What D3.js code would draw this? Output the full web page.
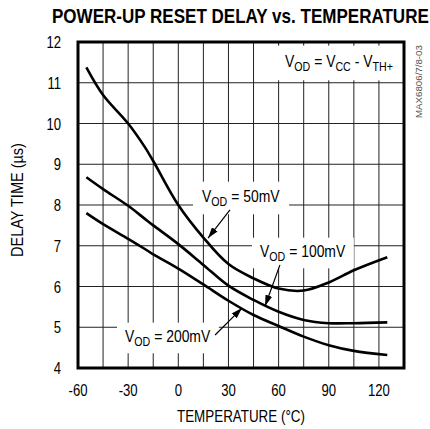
<!DOCTYPE html>
<html>
<head>
<meta charset="utf-8">
<script src="https://cdn.jsdelivr.net/npm/d3@7"></script>
<style>
  body { margin: 0; background: #fff; }
  text { font-family: "Liberation Sans", Arial, sans-serif; fill: #000; white-space: pre; }
</style>
</head>
<body>
<svg id="chart" width="430" height="429"></svg>
<script>
// temperatures (°C) and delay time (µs)
let temps = [-55, -45, -30, -20, -15, 0, 15, 30, 45, 60, 75, 90, 105, 125];
let v50  = [11.38, 10.7, 10.0, 9.42, 9.08, 8.0, 7.2, 6.55, 6.2, 5.95, 5.9, 6.1, 6.4, 6.72];
let v100 = [8.68, 8.39, 7.98, 7.66, 7.5, 7.04, 6.53, 6.02, 5.67, 5.38, 5.18, 5.1, 5.1, 5.12];
let v200 = [7.8, 7.53, 7.17, 6.92, 6.79, 6.44, 6.05, 5.65, 5.3, 5.03, 4.77, 4.56, 4.42, 4.32];

let xTicks = [-60, -30, 0, 30, 60, 90, 120];
let yTicks = [4, 5, 6, 7, 8, 9, 10, 11, 12];

let NARROW = 0.82;  // fake the condensed face of the original

let svg = d3.select("#chart");

let x = d3.scaleLinear().domain([-60, 135]).range([78, 404]);
let y = d3.scaleLinear().domain([4, 12]).range([368, 42]);

// grid
svg.append("g")
    .selectAll("line")
    .data(d3.range(-45, 135, 15))
    .enter().append("line")
    .attr("x1", d => x(d)).attr("x2", d => x(d))
    .attr("y1", y(12)).attr("y2", y(4))
    .attr("stroke", "#222").attr("stroke-width", 1);

svg.append("g")
    .selectAll("line")
    .data(d3.range(5, 12, 1))
    .enter().append("line")
    .attr("x1", x(-60)).attr("x2", x(135))
    .attr("y1", d => y(d)).attr("y2", d => y(d))
    .attr("stroke", "#222").attr("stroke-width", 1);

// white boxes behind the labels (cut the grid)
let boxes = svg.append("g");

let line = d3.line()
    .x((d, i) => x(temps[i]))
    .y(d => y(d))
    .curve(d3.curveCatmullRom);

[v50, v100, v200].forEach(s => {
    svg.append("path")
        .attr("d", line(s))
        .attr("fill", "none")
        .attr("stroke", "#000")
        .attr("stroke-width", 2.6)
        .attr("stroke-linejoin", "round");
});

// frame
svg.append("rect")
    .attr("x", x(-60)).attr("y", y(12))
    .attr("width", x(135) - x(-60)).attr("height", y(4) - y(12))
    .attr("fill", "none").attr("stroke", "#000").attr("stroke-width", 3);

function ntext(px, py, size, anchor) {
    return svg.append("text")
        .attr("transform", "translate(" + px + "," + py + ") scale(" + NARROW + ",1)")
        .attr("text-anchor", anchor)
        .attr("font-size", size);
}

// squeeze a text to a given width with a transform
function fitText(px, py, rot, width, size, str) {
    let t = svg.append("text").attr("font-size", size).text(str);
    let k = width / t.node().getComputedTextLength();
    t.attr("transform", "translate(" + px + "," + py + ") rotate(" + rot + ") scale(" + k + ",1)");
    return t;
}

// tick labels
yTicks.forEach(d => ntext(61, y(d) + 6, 16, "end").text(d));
xTicks.forEach(d => ntext(x(d), 396, 16, "middle").text(d));

fitText(177, 422, 0, 128, 16, "TEMPERATURE (°C)");
fitText(23, 257, -90, 114, 16, "DELAY TIME (µs)");
fitText(52, 23, 0, 372, 21, "POWER-UP RESET DELAY vs. TEMPERATURE")
    .attr("font-weight", "bold");
fitText(422, 118, -90, 73, 9, "MAX6806/7/8-03")
    .style("fill", "#555");

// arrowhead
svg.append("defs").append("marker")
    .attr("id", "arr")
    .attr("viewBox", "0 0 10 10")
    .attr("refX", 10).attr("refY", 5)
    .attr("markerWidth", 11).attr("markerHeight", 7)
    .attr("markerUnits", "userSpaceOnUse")
    .attr("orient", "auto")
    .attr("preserveAspectRatio", "none")
    .append("path")
    .attr("d", "M0,0 L10,5 L0,10 z")
    .attr("fill", "#000");

function label(px, py, parts, pad) {
    let tr = "translate(" + px + "," + py + ") scale(" + NARROW + ",1)";
    let t = svg.append("text").attr("transform", tr).attr("font-size", 17);
    parts.forEach(p => {
        let s = t.append("tspan").text(p[0]);
        if (p[1]) s.attr("font-size", 13).attr("dy", 4);
        else if (p[2]) s.attr("dy", -4);
    });
    let b = t.node().getBBox();
    boxes.append("rect")
        .attr("transform", tr)
        .attr("x", b.x - pad[0] / NARROW).attr("y", b.y - pad[1])
        .attr("width", b.width + 2 * pad[0] / NARROW).attr("height", b.height + 2 * pad[1])
        .attr("fill", "#fff");
}

label(202, 202, [["V"], ["OD", 1], [" = 50mV", 0, 1]], [9, 5]);
label(260, 257, [["V"], ["OD", 1], [" = 100mV", 0, 1]], [8, 4]);
label(125, 342, [["V"], ["OD", 1], [" = 200mV", 0, 1]], [8, 4]);
label(285, 67, [["V"], ["OD", 1], [" = V", 0, 1], ["CC", 1], [" - V", 0, 1], ["TH+", 1]], [12, 6]);

// arrows from label to curve
let arrows = [
    [[30.9, 7.88], [17.8, 7.19]],
    [[60.8, 6.53], [51.9, 5.52]],
    [[22, 4.81], [38.1, 5.47]]
];
arrows.forEach(a => {
    svg.append("line")
        .attr("x1", x(a[0][0])).attr("y1", y(a[0][1]))
        .attr("x2", x(a[1][0])).attr("y2", y(a[1][1]))
        .attr("stroke", "#000").attr("stroke-width", 1.2)
        .attr("marker-end", "url(#arr)");
});
</script>
</body>
</html>
